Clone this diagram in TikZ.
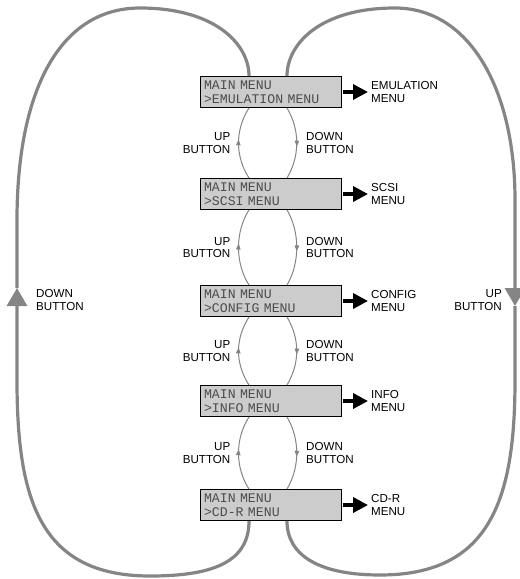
\documentclass[tikz,border=0pt]{standalone}
\usepackage{fontspec}
\setsansfont{Liberation Sans}
\newfontfamily\lcdfont{Liberation Mono}
\DeclareRobustCommand\lcdtype{\lcdfont\fontsize{13.2}{14}\selectfont\spaceskip=0.6em\relax}
\usetikzlibrary{arrows.meta,decorations.markings}
\definecolor{loopgray}{HTML}{858585}
\definecolor{lcdgray}{HTML}{CCCCCC}

\tikzstyle{lcd} = [draw=black,line width=0.9pt,fill=lcdgray,text=black!70,
  font=\lcdtype,align=left,text width=133pt,
  inner xsep=4pt,inner ysep=1pt,minimum height=31pt]
\tikzstyle{lbl} = [font=\sffamily\fontsize{11.6}{12.2}\selectfont,inner sep=0pt]
\tikzstyle{menu} = [draw,line width=3.5pt,-{Triangle[length=15pt,width=15pt]},shorten <=2pt,shorten >=3pt]
\tikzstyle{btn} = [draw=loopgray,line width=1pt]
\tikzstyle{wrap} = [draw=loopgray,line width=3.2pt]
\tikzstyle{bigtip} = [-{Triangle[length=18pt,width=20pt,color=loopgray]}]
\tikzstyle{midtip} = [postaction={decorate,decoration={markings,
  mark=at position 0.55 with {\arrow{Triangle[length=6pt,width=4.5pt,color=loopgray]}}}}]

\begin{document}
\begin{tikzpicture}[x=1pt,y=-1pt]
  \useasboundingbox (0,0) rectangle (520,579);

  % the five menu screens
  \node[lcd] (b1) at (270.5,92)  {MAIN MENU\\>EMULATION MENU};
  \node[lcd] (b2) at (270.5,194) {MAIN MENU\\>SCSI MENU};
  \node[lcd] (b3) at (270.5,301) {MAIN MENU\\>CONFIG MENU};
  \node[lcd] (b4) at (270.5,401) {MAIN MENU\\>INFO MENU};
  \node[lcd] (b5) at (270.5,505) {MAIN MENU\\>CD-R MENU};

  % where each one leads
  \node[lbl,anchor=west,align=left] (e1) at (371,92)  {EMULATION\\MENU};
  \node[lbl,anchor=west,align=left] (e2) at (371,194) {SCSI\\MENU};
  \node[lbl,anchor=west,align=left] (e3) at (371,301) {CONFIG\\MENU};
  \node[lbl,anchor=west,align=left] (e4) at (371,401) {INFO\\MENU};
  \node[lbl,anchor=west,align=left] (e5) at (371,505) {CD-R\\MENU};
  \foreach \i in {1,...,5}
    \path[menu] (b\i.east) -- (e\i.west);

  % up/down between neighbours
  \foreach \a/\b in {b1/b2,b2/b3,b3/b4,b4/b5} {
    \path (\a.south) -- (\b.north) coordinate[pos=.5] (m\a);
    \path[btn,midtip] ([xshift=-21.5pt]\b.north) .. controls +(-14,-22) and +(-14,22) .. ([xshift=-21.5pt]\a.south);
    \path[btn,midtip] ([xshift=16.5pt]\a.south) .. controls +(13,22) and +(13,-22) .. ([xshift=16.5pt]\b.north);
    \node[lbl,anchor=east,align=right] (up\a) at ([xshift=-40pt]m\a) {UP\\BUTTON};
    \node[lbl,anchor=west,align=left] (dn\a) at ([xshift=35.5pt]m\a) {DOWN\\BUTTON};
  }

  % wrap round from last to first and back
  \coordinate (dl) at (17,288);
  \coordinate (ur) at (515,306);
  \path[wrap,bigtip] ([xshift=-21.5pt]b5.south) .. controls +(0,40) and (215,576) .. (150,576)
    .. controls (40,576) and (17,500) .. (17,380) -- (dl);
  \path[wrap] (dl) -- (17,220) .. controls (17,90) and (60,8) .. (140,8)
    .. controls (215,8) and +(0,-32) .. ([xshift=-21.5pt]b1.north);
  \path[wrap,bigtip] ([xshift=16.5pt]b1.north) .. controls +(0,-32) and (320,8) .. (395,8)
    .. controls (470,8) and (515,90) .. (515,200) -- (ur);
  \path[wrap] (ur) -- (515,380) .. controls (515,500) and (490,575) .. (380,575)
    .. controls (320,575) and +(0,35) .. ([xshift=16.5pt]b5.south);

  \node[lbl,anchor=west,align=left] (wdn) at (36,300) {DOWN\\BUTTON};
  \node[lbl,anchor=east,align=right] (wup) at (502,300) {UP\\BUTTON};
\end{tikzpicture}
\end{document}
